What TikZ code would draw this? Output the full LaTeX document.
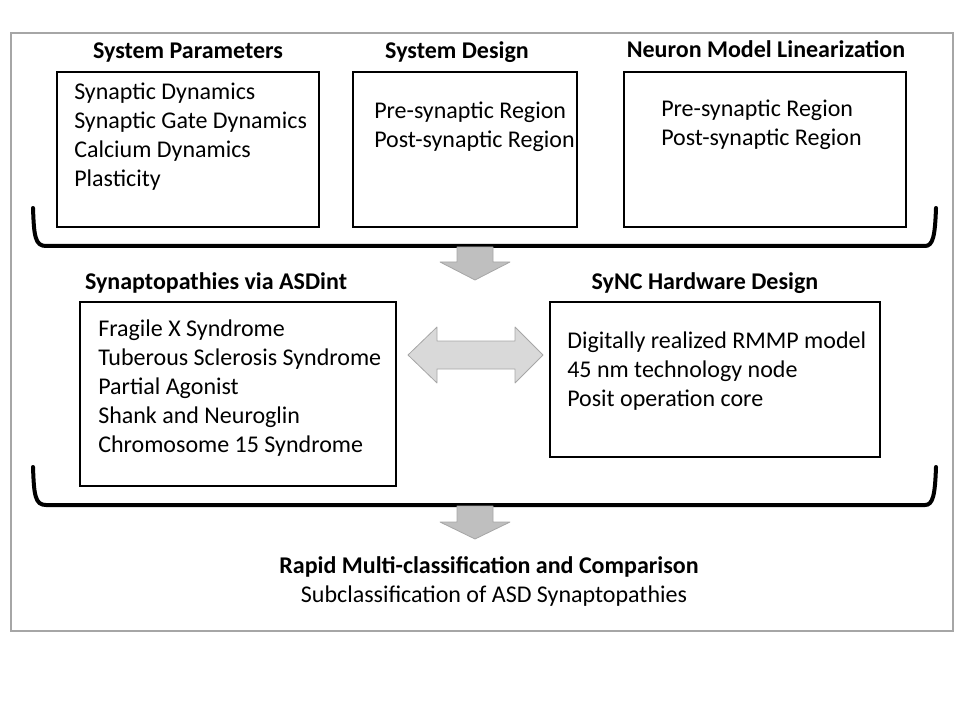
\documentclass[tikz,border=0pt]{standalone}
\usepackage{fontspec}
\setmainfont{Carlito}
\usepackage{tikz}

\begin{document}
\begin{tikzpicture}[x=0.75pt, y=-0.75pt,
	head/.style={font=\fontsize{18}{21.75}\selectfont\bfseries, anchor=base, inner sep=0},
	lines/.style={font=\fontsize{18}{21.75}\selectfont, align=left, anchor=north west, inner sep=0},
	panel/.style={draw=black, line width=0.9pt},
	brace/.style={line width=3pt, line cap=round},
	blockarrow/.style={fill=black!25, draw=black!35, line width=0.6pt, line join=round}]
\useasboundingbox (0,0) rectangle (960,720);
\draw[black!35, line width=0.9pt] (11,33) rectangle (953,631);

\node[head] (parhead) at (188,59) {System Parameters};
\node[head] (deshead) at (457,59) {System Design};
\node[head] (linhead) at (766,58) {Neuron Model Linearization};
\draw[panel] (57,72) rectangle (319,227);
\draw[panel] (353,72) rectangle (577,227);
\draw[panel] (624,72) rectangle (906,227);
\node[lines] (partext) at (74,83) {Synaptic Dynamics\\Synaptic Gate Dynamics\\Calcium Dynamics\\Plasticity};
\node[lines] (destext) at (374,102) {Pre-synaptic Region\\Post-synaptic Region};
\node[lines] (lintext) at (661,100) {Pre-synaptic Region\\Post-synaptic Region};

\draw[brace] (33,208) .. controls (34,236) and (35,246) .. (46,246) -- (925,246) .. controls (933,246) and (935,236) .. (936,208);
\draw[blockarrow] (457,247) -- (493,247) -- (493,262) -- (510,262) -- (475,280) -- (440,262) -- (457,262) -- cycle;

\node[head] (synhead) at (216,290) {Synaptopathies via ASDint};
\node[head] (hwhead) at (705,290) {SyNC Hardware Design};
\draw[panel] (80,302) rectangle (396,486);
\draw[panel] (550,302) rectangle (880,457);
\node[lines] (syntext) at (98,320) {Fragile X Syndrome\\Tuberous Sclerosis Syndrome\\Partial Agonist\\Shank and Neuroglin\\Chromosome 15 Syndrome};
\node[lines] (hwtext) at (567,332) {Digitally realized RMMP model\\45 nm technology node\\Posit operation core};
\draw[blockarrow, fill=black!15] (408,355) -- (437,327) -- (437,341) -- (515,341) -- (515,327) -- (543,355) -- (515,383) -- (515,369) -- (437,369) -- (437,383) -- cycle;

\draw[brace] (33,467) .. controls (34,495) and (35,505) .. (46,505) -- (925,505) .. controls (933,505) and (935,495) .. (936,467);
\draw[blockarrow] (457,506) -- (493,506) -- (493,522) -- (510,522) -- (475,539) -- (440,522) -- (457,522) -- cycle;

\node[head] (rapid) at (489,573) {Rapid Multi-classification and Comparison};
\node[head, font=\fontsize{18}{21.75}\selectfont] (subcl) at (494,602) {Subclassification of ASD Synaptopathies};
\end{tikzpicture}
\end{document}
